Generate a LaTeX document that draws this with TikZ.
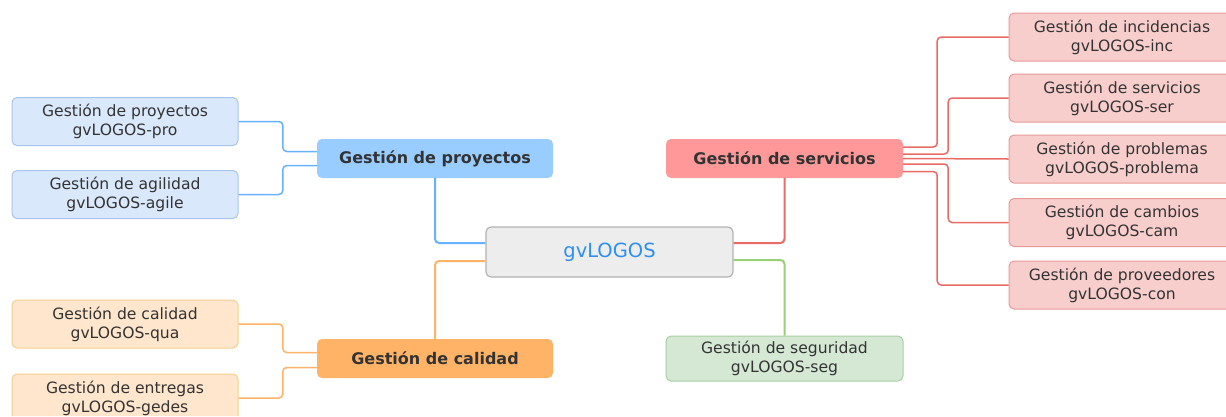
\documentclass[tikz,border=0pt]{standalone}
\usepackage{fontspec}
\setmainfont{DejaVu Sans}
\usetikzlibrary{positioning}

\definecolor{azulR}{HTML}{66B2FF}
\definecolor{azulP}{HTML}{99CCFF}
\definecolor{azulH}{HTML}{DAE8FC}
\definecolor{azulB}{HTML}{A9C4EB}
\definecolor{naranjaR}{HTML}{FFB366}
\definecolor{naranjaP}{HTML}{FFB366}
\definecolor{naranjaH}{HTML}{FFE6CC}
\definecolor{naranjaB}{HTML}{F5CF8F}
\definecolor{rojoR}{HTML}{EA6B66}
\definecolor{rojoP}{HTML}{FF9999}
\definecolor{rojoH}{HTML}{F8CECC}
\definecolor{rojoB}{HTML}{E69A97}
\definecolor{verdeR}{HTML}{97D077}
\definecolor{verdeH}{HTML}{D5E8D4}
\definecolor{verdeB}{HTML}{A8CFA2}
\definecolor{texto}{HTML}{333333}
\definecolor{logo}{HTML}{2D8FF0}

\begin{document}
\begin{tikzpicture}[x=1pt, y=-1pt, rounded corners=4pt, node distance=24pt]
        \tikzstyle{caja}=[rounded corners=5pt, inner sep=0pt, align=center, text=texto]
        \tikzstyle{padre}=[caja, minimum width=236pt, minimum height=39pt, font=\fontsize{16}{19}\selectfont\bfseries]
        \tikzstyle{hoja}=[caja, draw, line width=1pt, minimum width=226pt, minimum height=48pt, font=\fontsize{15.6}{19}\selectfont]
        \tikzstyle{ramal}=[line width=2pt]
        \tikzstyle{rama}=[line width=1.5pt]
        \useasboundingbox (0,0) rectangle (1226,416);
        \clip (0,0) rectangle (1226,416);

        % centro
        \node[caja, draw=black!30, line width=1.2pt, fill=black!7, minimum width=247pt, minimum height=50pt,
              font=\fontsize{19.5}{23}\selectfont, text=logo] (centro) at (609.5,252) {gvLOGOS};

        % ramas principales
        \node[padre, fill=azulP]    (proy) at (435,158.5)  {Gestión de proyectos};
        \node[padre, fill=naranjaP] (cal)  at (435,358.5)  {Gestión de calidad};
        \node[padre, fill=rojoP, minimum width=237pt] (serv) at (784.5,158.5) {Gestión de servicios};
        \node[hoja, fill=verdeH, draw=verdeB, minimum width=237pt, minimum height=45pt] (seg) at (784.5,358.5) {Gestión de seguridad\\gvLOGOS-seg};

        % hojas
        \node[hoja, fill=azulH, draw=azulB]       (pro)   at (125,121.5) {Gestión de proyectos\\gvLOGOS-pro};
        \node[hoja, fill=azulH, draw=azulB]       (agile) [below=24pt of pro] {Gestión de agilidad\\gvLOGOS-agile};
        \node[hoja, fill=naranjaH, draw=naranjaB] (qua)   at (125,324) {Gestión de calidad\\gvLOGOS-qua};
        \node[hoja, fill=naranjaH, draw=naranjaB] (gedes) [below=25pt of qua] {Gestión de entregas\\gvLOGOS-gedes};
        \node[hoja, fill=rojoH, draw=rojoB] (inc)  at (1122,37)    {Gestión de incidencias\\gvLOGOS-inc};
        \node[hoja, fill=rojoH, draw=rojoB] (ser)  at (1122,98)    {Gestión de servicios\\gvLOGOS-ser};
        \node[hoja, fill=rojoH, draw=rojoB] (prob) at (1122,159)   {Gestión de problemas\\gvLOGOS-problema};
        \node[hoja, fill=rojoH, draw=rojoB] (cam)  at (1122,222.5) {Gestión de cambios\\gvLOGOS-cam};
        \node[hoja, fill=rojoH, draw=rojoB] (con)  at (1122,285)   {Gestión de proveedores\\gvLOGOS-con};

        % conectores
        \draw[ramal, azulR]    ([yshift=9pt]centro.west)  -| (proy.south);
        \draw[ramal, naranjaR] ([yshift=-9pt]centro.west) -| (cal.north);
        \draw[ramal, rojoR]    ([yshift=9pt]centro.east)  -| (serv.south);
        \draw[ramal, verdeR]   ([yshift=-8pt]centro.east) -| (seg.north);

        \draw[rama, azulR] ([yshift=7pt]proy.west)  -- ++(-34,0) |- (pro.east);
        \draw[rama, azulR] ([yshift=-7pt]proy.west) -- ++(-34,0) |- (agile.east);
        \draw[rama, naranjaR] ([yshift=6pt]cal.west)  -- ++(-34,0) |- (qua.east);
        \draw[rama, naranjaR] ([yshift=-9pt]cal.west) -- ++(-34,0) |- (gedes.east);

        \draw[rama, rojoR] ([yshift=11.5pt]serv.east) -- ++(34,0) |- (inc.west);
        \draw[rama, rojoR] ([yshift=4.5pt]serv.east)  -- ++(45,0) |- (ser.west);
        \draw[rama, rojoR] (serv.east) -- (prob.west);
        \draw[rama, rojoR] ([yshift=-5.5pt]serv.east) -- ++(45,0) |- (cam.west);
        \draw[rama, rojoR] ([yshift=-13pt]serv.east)  -- ++(34,0) |- (con.west);
\end{tikzpicture}
\end{document}
